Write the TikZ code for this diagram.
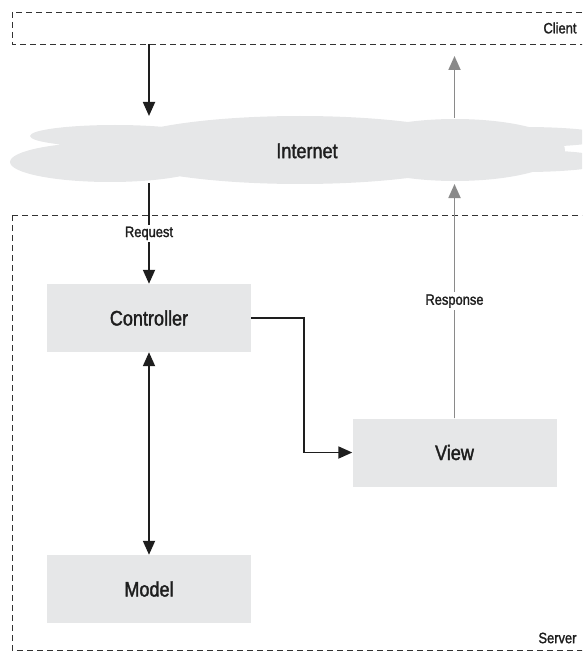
\documentclass[tikz,border=0pt]{standalone}
\usepackage{fontspec}
\setmainfont{Liberation Sans}[FakeStretch=0.86, FakeBold=1.6]
\usetikzlibrary{arrows.meta, positioning}
\definecolor{boxgray}{HTML}{E6E7E8}
\definecolor{respgray}{HTML}{8A8A8A}
\definecolor{ink}{HTML}{1E1E1E}

\tikzset{
    mvcbox/.style={fill=boxgray, minimum width=204pt, minimum height=68pt, inner sep=0pt, text=ink, font=\fontsize{21}{24}\selectfont},
    zone/.style={draw=black!80, dash pattern=on 6pt off 4pt, line width=0.9pt},
    tip/.style={-{Triangle[length=14pt, width=12pt]}},
    flow/.style={line width=1.8pt, draw=ink, tip},
    small/.style={text=ink, font=\fontsize{15}{18}\selectfont},
}

\begin{document}
\begin{tikzpicture}[x=1pt, y=-1pt]
    \useasboundingbox (0,0) rectangle (582,655);
    \clip (0,0) rectangle (582,655);

    % client and server zones
    \draw[zone] (12,12) rectangle (600,44);
    \node[small, anchor=east] (client) at (580,28) {Client};
    \draw[zone] (12,215) rectangle (600,650);
    \node[small, anchor=east] (server) at (580,638) {Server};

    % the cloud
    \fill[boxgray]
        (110,162) ellipse [x radius=100pt, y radius=20pt]
        (115,136) ellipse [x radius=85pt, y radius=11pt]
        (300,150) ellipse [x radius=190pt, y radius=34pt]
        (455,150) ellipse [x radius=110pt, y radius=31pt]
        (525,137) ellipse [x radius=85pt, y radius=10pt]
        (525,161) ellipse [x radius=85pt, y radius=11pt];
    \node[text=ink, font=\fontsize{21}{24}\selectfont] (internet) at (307,151) {Internet};

    % mvc parts
    \node[mvcbox] (ctrl) at (149,318) {Controller};
    \node[mvcbox] (view) at (454.5,452.5) {View};
    \node[mvcbox] (model) at (149,589) {Model};

    \coordinate (clientL) at (149,44);
    \coordinate (cloudLt) at (149,116);
    \coordinate (cloudLb) at (149,183);
    \coordinate (clientR) at (454.5,56);
    \coordinate (cloudRt) at (454.5,118);
    \coordinate (cloudRb) at (454.5,184);

    \draw[flow] (clientL) -- (cloudLt);
    \draw[flow] (cloudLb) -- node[small, fill=white, inner sep=2pt]{Request} (ctrl);
    \draw[flow] (ctrl.east) -- ++(53,0) |- (view.west);
    \draw[flow, {Triangle[length=14pt, width=12pt]}-{Triangle[length=14pt, width=12pt]}] (ctrl) -- (model);
    \draw[flow, draw=respgray, fill=respgray] (view) -- node[small, fill=white, inner sep=2pt]{Response} (cloudRb);
    \draw[flow, draw=respgray, fill=respgray] (cloudRt) -- (clientR);
\end{tikzpicture}
\end{document}
